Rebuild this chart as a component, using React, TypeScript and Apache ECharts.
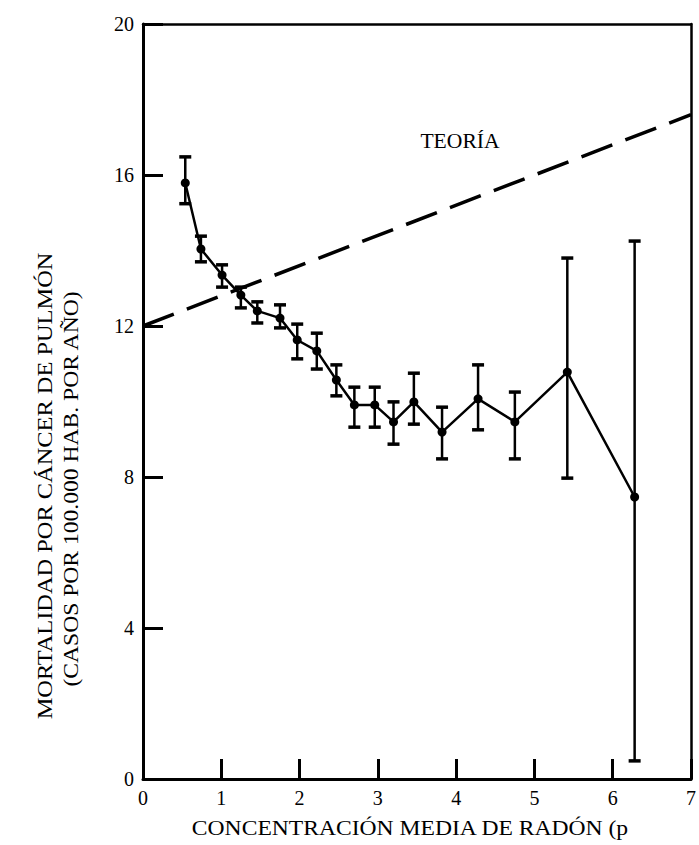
import React, { useEffect, useRef } from "react";
import * as echarts from "echarts";

const radon: number[] = [0.54, 0.74, 1.01, 1.25, 1.46, 1.75, 1.97, 2.22, 2.47, 2.7, 2.96, 3.2, 3.46, 3.82, 4.28, 4.75, 5.42, 6.28];
const mortality: number[] = [15.79, 14.04, 13.35, 12.82, 12.4, 12.21, 11.63, 11.34, 10.57, 9.91, 9.91, 9.46, 9.99, 9.19, 10.07, 9.46, 10.78, 7.47];
const errHigh: number[] = [16.48, 14.38, 13.62, 13.03, 12.64, 12.56, 12.05, 11.81, 10.97, 10.38, 10.38, 9.99, 10.75, 9.85, 10.97, 10.25, 13.8, 14.25];
const errLow: number[] = [15.24, 13.7, 13.03, 12.48, 12.08, 11.95, 11.13, 10.86, 10.15, 9.32, 9.32, 8.87, 9.4, 8.48, 9.25, 8.48, 7.97, 0.48];
const theoryX: number[] = [0, 7];
const theoryY: number[] = [12.0, 17.6];
const xTicks: number[] = [0, 1, 2, 3, 4, 5, 6, 7];
const yTicks: number[] = [0, 4, 8, 12, 16, 20];

const FONT = "'Liberation Serif', 'DejaVu Serif', serif";

export default function App() {
  const ref = useRef<HTMLDivElement>(null);
  useEffect(() => {
    if (!ref.current) return;
    const chart = echarts.init(ref.current, null, { renderer: "svg" });
    const xMin = xTicks[0];
    const xMax = xTicks[xTicks.length - 1];
    const yMin = yTicks[0];
    const yMax = yTicks[yTicks.length - 1];
    const errData = radon.map((x, i) => [x, errLow[i], errHigh[i]]);
    chart.setOption({
      animation: false,
      backgroundColor: "#fff",
      grid: {
        left: 143,
        right: 1,
        top: 24,
        bottom: 66,
        show: false,
      },
      xAxis: [
        {
          type: "value",
          position: "bottom",
          min: xMin,
          max: xMax,
          interval: 1,
          axisLine: { show: true, onZero: false, lineStyle: { color: "#000", width: 3 } },
          axisTick: { show: true, inside: true, length: 20, lineStyle: { color: "#000", width: 3 } },
          axisLabel: { show: true, color: "#000", fontFamily: FONT, fontSize: 20, margin: 9 },
          splitLine: { show: false },
        },
        {
          type: "value",
          position: "top",
          min: xMin,
          max: xMax,
          interval: 1,
          axisLine: { show: true, onZero: false, lineStyle: { color: "#000", width: 2.5 } },
          axisTick: { show: false },
          axisLabel: { show: false },
          splitLine: { show: false },
        },
      ],
      yAxis: [
        {
          type: "value",
          position: "left",
          min: yMin,
          max: yMax,
          interval: 4,
          axisLine: { show: true, onZero: false, lineStyle: { color: "#000", width: 3 } },
          axisTick: { show: true, inside: true, length: 20, lineStyle: { color: "#000", width: 3 } },
          axisLabel: { show: true, color: "#000", fontFamily: FONT, fontSize: 20, margin: 9 },
          splitLine: { show: false },
        },
        {
          type: "value",
          position: "right",
          min: yMin,
          max: yMax,
          interval: 4,
          axisLine: { show: true, onZero: false, lineStyle: { color: "#000", width: 2.5 } },
          axisTick: { show: false },
          axisLabel: { show: false },
          splitLine: { show: false },
        },
      ],
      series: [
        {
          type: "line",
          data: theoryX.map((x, i) => [x, theoryY[i]]),
          symbol: "none",
          lineStyle: { color: "#000", width: 3.5, type: [33, 14] },
          z: 2,
        },
        {
          type: "custom",
          data: errData,
          renderItem: (params: any, api: any) => {
            const x = api.value(0);
            const lo = api.coord([x, api.value(1)]);
            const hi = api.coord([x, api.value(2)]);
            const cw = 6;
            return {
              type: "group",
              children: [
                { type: "line", shape: { x1: lo[0], y1: lo[1], x2: hi[0], y2: hi[1] }, style: { stroke: "#000", lineWidth: 2.5 } },
                { type: "line", shape: { x1: hi[0] - cw, y1: hi[1], x2: hi[0] + cw, y2: hi[1] }, style: { stroke: "#000", lineWidth: 3.5 } },
                { type: "line", shape: { x1: lo[0] - cw, y1: lo[1], x2: lo[0] + cw, y2: lo[1] }, style: { stroke: "#000", lineWidth: 3.5 } },
              ],
            };
          },
          z: 3,
        },
        {
          type: "line",
          data: radon.map((x, i) => [x, mortality[i]]),
          symbol: "circle",
          symbolSize: 9,
          itemStyle: { color: "#000" },
          lineStyle: { color: "#000", width: 2.5 },
          z: 4,
        },
      ],
      graphic: [
        {
          type: "text",
          x: 460,
          y: 141,
          scaleX: 1.08,
          style: { text: "TEORÍA", fontFamily: FONT, fontSize: 20, fill: "#000", align: "center", verticalAlign: "middle" },
        },
        {
          type: "text",
          x: 410,
          y: 829,
          scaleX: 1.18,
          style: { text: "CONCENTRACIÓN MEDIA DE RADÓN (p", fontFamily: FONT, fontSize: 20, fill: "#000", align: "center", verticalAlign: "middle" },
        },
        {
          type: "text",
          x: 45,
          y: 486,
          rotation: Math.PI / 2,
          scaleX: 1.22,
          style: { text: "MORTALIDAD POR CÁNCER DE PULMÓN", fontFamily: FONT, fontSize: 20, fill: "#000", align: "center", verticalAlign: "middle" },
        },
        {
          type: "text",
          x: 72,
          y: 489,
          rotation: Math.PI / 2,
          scaleX: 1.18,
          style: { text: "(CASOS POR 100.000 HAB. POR AÑO)", fontFamily: FONT, fontSize: 20, fill: "#000", align: "center", verticalAlign: "middle" },
        },
      ],
    });
    return () => chart.dispose();
  }, []);
  return <div ref={ref} style={{ width: 699, height: 845, position: "absolute", left: 0, top: 0 }} />;
}
